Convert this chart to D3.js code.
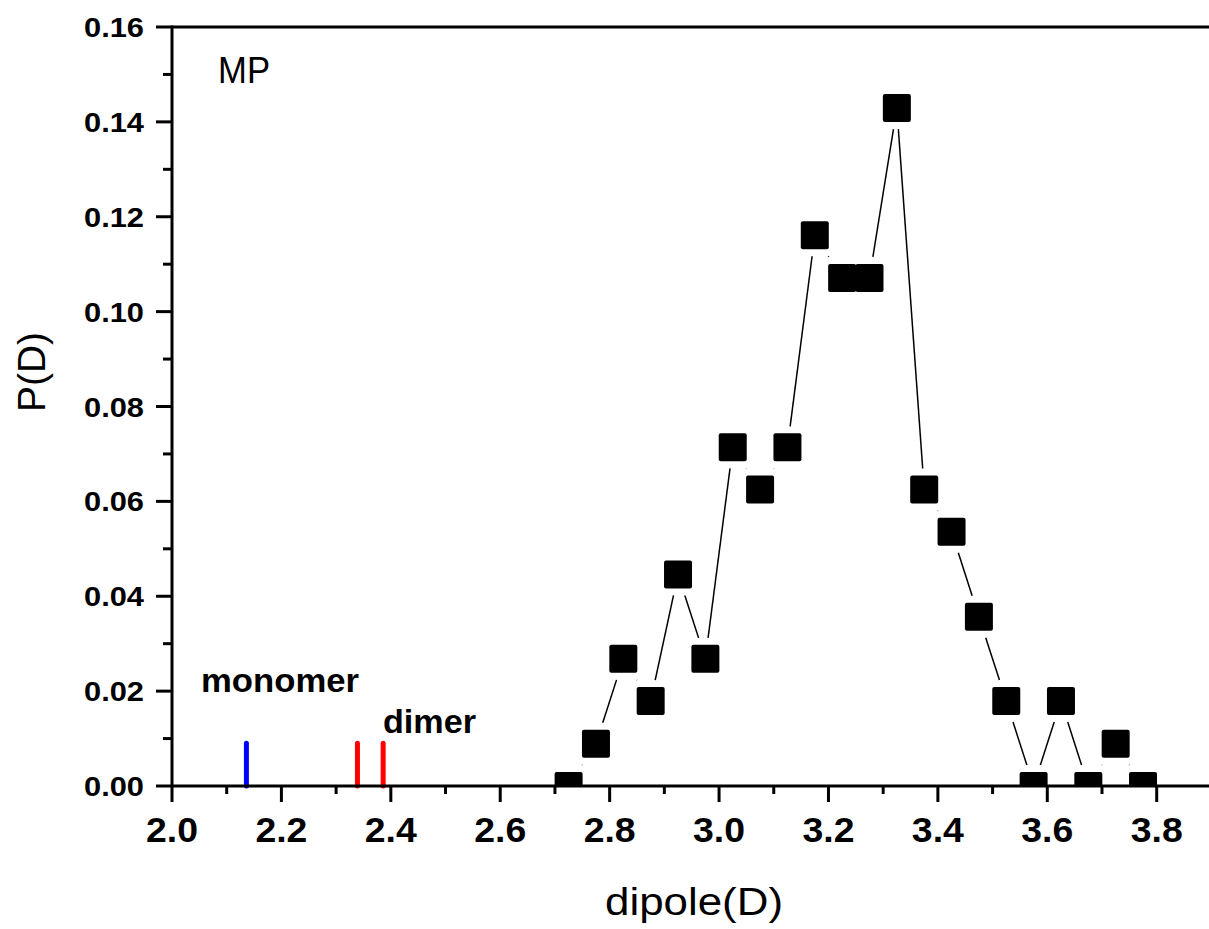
<!DOCTYPE html>
<html><head><meta charset="utf-8">
<script src="https://cdn.jsdelivr.net/npm/d3@7"></script>
<style>body{margin:0;background:#fff}svg{display:block}text{font-family:Arial,"Liberation Sans",sans-serif}</style>
</head><body><svg id="c" width="1209" height="929"></svg>
<script>
const dipole = [2.725,2.775,2.825,2.875,2.925,2.975,3.025,3.075,3.125,3.175,3.225,3.275,3.325,3.375,3.425,3.475,3.525,3.575,3.625,3.675,3.725,3.775];
const prob = [0.0000,0.0089,0.0268,0.0179,0.0446,0.0268,0.0714,0.0625,0.0714,0.1161,0.1071,0.1071,0.1429,0.0625,0.0536,0.0357,0.0179,0.0000,0.0179,0.0000,0.0089,0.0000];
const monomerX = [2.136];
const dimerX = [2.339, 2.386];
const stickHeight = 0.009;
const xTicks = [2.0,2.2,2.4,2.6,2.8,3.0,3.2,3.4,3.6,3.8];
const yTicks = [0.00,0.02,0.04,0.06,0.08,0.10,0.12,0.14,0.16];

const svg = d3.select("#c");
const L = 172, T = 27, B = 786, R = 1209;
const x = d3.scaleLinear().domain([2.0, 3.8]).range([172, 1156.7]);
const y = d3.scaleLinear().domain([0, 0.16]).range([B, T]);

svg.append("defs").append("clipPath").attr("id","clip")
  .append("rect").attr("x",L).attr("y",T).attr("width",R-L).attr("height",B-T);

const xMinor = d3.range(2.1, 3.85, 0.2);
const yMinor = d3.range(0.01, 0.16, 0.02);
const g = svg.append("g");
g.selectAll(".xmaj").data(xTicks).join("line")
  .attr("x1",d=>x(d)).attr("x2",d=>x(d)).attr("y1",B).attr("y2",B+16)
  .attr("stroke","#000").attr("stroke-width",3);
g.selectAll(".xmin").data(xMinor).join("line")
  .attr("x1",d=>x(d)).attr("x2",d=>x(d)).attr("y1",B).attr("y2",B+8)
  .attr("stroke","#000").attr("stroke-width",3);
g.selectAll(".ymaj").data(yTicks).join("line")
  .attr("y1",d=>y(d)).attr("y2",d=>y(d)).attr("x1",L).attr("x2",L-16)
  .attr("stroke","#000").attr("stroke-width",3);
g.selectAll(".ymin").data(yMinor).join("line")
  .attr("y1",d=>y(d)).attr("y2",d=>y(d)).attr("x1",L).attr("x2",L-9)
  .attr("stroke","#000").attr("stroke-width",3);

g.selectAll(".xl").data(xTicks).join("text")
  .attr("x",d=>x(d)).attr("y",842).attr("text-anchor","middle")
  .attr("font-size",35).attr("font-weight","bold")
  .attr("textLength",52).attr("lengthAdjust","spacingAndGlyphs")
  .text(d=>d.toFixed(1));
g.selectAll(".yl").data(yTicks).join("text")
  .attr("x",84).attr("y",d=>y(d)+10)
  .attr("font-size",28).attr("font-weight","bold")
  .attr("textLength",60).attr("lengthAdjust","spacingAndGlyphs")
  .text(d=>d.toFixed(2));

const pts = dipole.map((d,i)=>[x(d), y(prob[i])]);
const h = 21;
const plot = svg.append("g").attr("clip-path","url(#clip)");
for (let i=0;i<pts.length-1;i++){
  const [x1,y1]=pts[i],[x2,y2]=pts[i+1];
  const dx=x2-x1, dy=y2-y1, len=Math.hypot(dx,dy);
  const ux=dx/len, uy=dy/len;
  const t = Math.min(Math.abs(ux)>1e-9?h/Math.abs(ux):Infinity, Math.abs(uy)>1e-9?h/Math.abs(uy):Infinity);
  if (2*t >= len) continue;
  plot.append("line").attr("x1",x1+ux*t).attr("y1",y1+uy*t).attr("x2",x2-ux*t).attr("y2",y2-uy*t)
    .attr("stroke","#000").attr("stroke-width",1.5);
}
plot.selectAll(".m").data(dipole).join("rect")
  .attr("x",d=>x(d)-14).attr("y",(d,i)=>y(prob[i])-14)
  .attr("width",28).attr("height",28).attr("rx",2).attr("fill","#000");

svg.selectAll(".mono").data(monomerX).join("line")
  .attr("x1",d=>x(d)).attr("x2",d=>x(d)).attr("y1",y(0)).attr("y2",y(stickHeight))
  .attr("stroke","#0000ff").attr("stroke-width",5).attr("stroke-linecap","round");
svg.selectAll(".dim").data(dimerX).join("line")
  .attr("x1",d=>x(d)).attr("x2",d=>x(d)).attr("y1",y(0)).attr("y2",y(stickHeight))
  .attr("stroke","#ff0000").attr("stroke-width",5).attr("stroke-linecap","round");

svg.append("line").attr("x1",L).attr("x2",L).attr("y1",T-1.5).attr("y2",B+1.5).attr("stroke","#000").attr("stroke-width",3);
svg.append("line").attr("x1",L).attr("x2",R).attr("y1",B).attr("y2",B).attr("stroke","#000").attr("stroke-width",3);
svg.append("line").attr("x1",L).attr("x2",R).attr("y1",T).attr("y2",T).attr("stroke","#000").attr("stroke-width",3);

svg.append("text").attr("x",218).attr("y",83).attr("font-size",36).attr("textLength",52).attr("lengthAdjust","spacingAndGlyphs").text("MP");
svg.append("text").attr("x",201).attr("y",692).attr("font-size",34).attr("font-weight","bold").attr("textLength",158).attr("lengthAdjust","spacingAndGlyphs").text("monomer");
svg.append("text").attr("x",383).attr("y",733).attr("font-size",34).attr("font-weight","bold").attr("textLength",93).attr("lengthAdjust","spacingAndGlyphs").text("dimer");
svg.append("text").attr("x",605).attr("y",915).attr("font-size",38).attr("textLength",178).attr("lengthAdjust","spacingAndGlyphs").text("dipole(D)");
svg.append("text").attr("transform","translate(45,372) rotate(-90)").attr("text-anchor","middle")
  .attr("font-size",38).attr("textLength",80).attr("lengthAdjust","spacingAndGlyphs").text("P(D)");
</script></body></html>
